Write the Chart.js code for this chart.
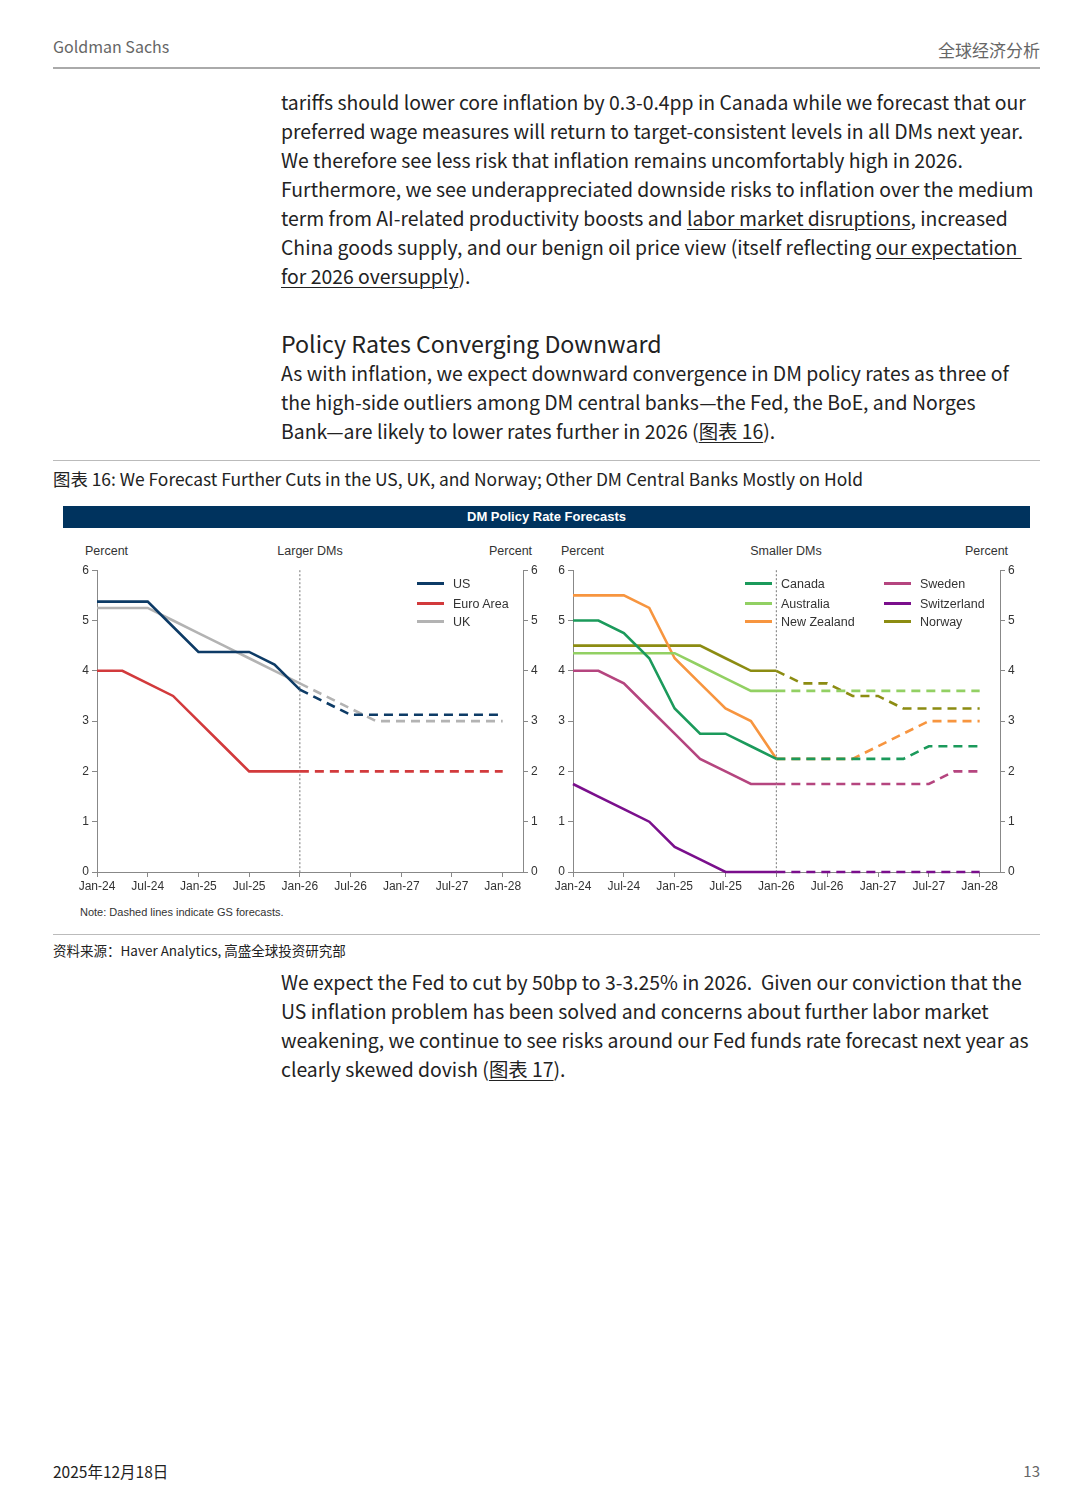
<!DOCTYPE html>
<html>
<head>
<meta charset="utf-8">
<script src="https://cdn.jsdelivr.net/npm/chart.js@4.4.1/dist/chart.umd.min.js"></script>
<style>
  body { margin: 0; background: #fff; }
  #page { position: relative; width: 1080px; height: 1510px; overflow: hidden;
          font-family: "Noto Sans CJK SC", "Noto Sans", sans-serif; color: #222; }
  .abs { position: absolute; white-space: nowrap; }
  .body { left: 281px; font-size: 19.4px; line-height: 29px; color: #222; }
  u { text-decoration-thickness: 1px; text-underline-offset: 3px; }
  .rule { position: absolute; left: 53px; width: 987px; background: #bbb; height: 1px; }
  .cl { position: absolute; white-space: nowrap; font-family: "Liberation Sans", Arial, sans-serif;
        font-size: 12.5px; color: #333; line-height: 14px; }
  .leg { position: absolute; font-family: "Liberation Sans", Arial, sans-serif; font-size: 12.5px; color: #333; }
  .leg div { position: absolute; white-space: nowrap; height: 16px; line-height: 16px; }
  .leg span.sw { display: inline-block; width: 27px; height: 3px; vertical-align: middle; margin-right: 9px; position: relative; top: -1px; }
  canvas { position: absolute; }
</style>
</head>
<body>
<div id="page">
  <div class="abs" style="left:53px;top:34px;font-size:16px;color:#666;">Goldman Sachs</div>
  <div class="abs" style="right:40px;top:37px;font-size:17px;color:#666;">全球经济分析</div>
  <div class="rule" style="top:67px;height:2px;background:#aaa;"></div>

  <div class="abs body" style="top:87px;">
    tariffs should lower core inflation by 0.3-0.4pp in Canada while we forecast that our<br>
    preferred wage measures will return to target-consistent levels in all DMs next year.<br>
    We therefore see less risk that inflation remains uncomfortably high in 2026.<br>
    Furthermore, we see underappreciated downside risks to inflation over the medium<br>
    term from AI-related productivity boosts and <u>labor market disruptions</u>, increased<br>
    China goods supply, and our benign oil price view (itself reflecting <u>our expectation&nbsp;</u><br>
    <u>for 2026 oversupply</u>).
  </div>

  <div class="abs" style="left:281px;top:327px;font-size:23.2px;line-height:32px;color:#222;">Policy Rates Converging Downward</div>
  <div class="abs body" style="top:358px;">
    As with inflation, we expect downward convergence in DM policy rates as three of<br>
    the high-side outliers among DM central banks—the Fed, the BoE, and Norges<br>
    Bank—are likely to lower rates further in 2026 (<u>图表 16</u>).
  </div>

  <div class="rule" style="top:460px;"></div>
  <div class="abs" style="left:53px;top:466px;font-size:17.4px;line-height:26px;color:#222;">图表 16: We Forecast Further Cuts in the US, UK, and Norway; Other DM Central Banks Mostly on Hold</div>

  <div class="abs" style="left:63px;top:506px;width:967px;height:22px;background:#00335e;color:#fff;
       font-family:'Liberation Sans',Arial,sans-serif;font-weight:bold;font-size:13px;line-height:22px;text-align:center;">DM Policy Rate Forecasts</div>

  <div class="cl" style="left:85px;top:544px;">Percent</div>
  <div class="cl" style="left:310px;top:544px;transform:translateX(-50%);">Larger DMs</div>
  <div class="cl" style="left:489px;top:544px;">Percent</div>
  <div class="cl" style="left:561px;top:544px;">Percent</div>
  <div class="cl" style="left:786px;top:544px;transform:translateX(-50%);">Smaller DMs</div>
  <div class="cl" style="left:965px;top:544px;">Percent</div>

  <canvas id="chartLarge" width="490" height="340" style="left:60px;top:560px;width:490px;height:340px;"></canvas>
  <canvas id="chartSmall" width="490" height="340" style="left:540px;top:560px;width:490px;height:340px;"></canvas>

  <div class="leg" id="legLarge"></div>
  <div class="leg" id="legSmall"></div>

  <div class="cl" style="left:80px;top:905px;font-size:11px;">Note: Dashed lines indicate GS forecasts.</div>
  <div class="rule" style="top:934px;"></div>
  <div class="abs" style="left:53px;top:940px;font-size:13.5px;line-height:20px;color:#222;">资料来源：Haver Analytics, 高盛全球投资研究部</div>

  <div class="abs body" style="top:967px;">
    We expect the Fed to cut by 50bp to 3-3.25% in 2026.&nbsp; Given our conviction that the<br>
    US inflation problem has been solved and concerns about further labor market<br>
    weakening, we continue to see risks around our Fed funds rate forecast next year as<br>
    clearly skewed dovish (<u>图表 17</u>).
  </div>

  <div class="abs" style="left:53px;top:1460px;font-size:15.5px;line-height:22px;color:#222;">2025年12月18日</div>
  <div class="abs" style="right:40px;top:1460px;font-size:15px;line-height:22px;color:#666;">13</div>
</div>

<script>
// Quarterly dates along the x axis; forecasts start at Jan-26
const quarters = ['Jan-24', 'Apr-24', 'Jul-24', 'Oct-24', 'Jan-25', 'Apr-25', 'Jul-25', 'Oct-25',
                  'Jan-26', 'Apr-26', 'Jul-26', 'Oct-26', 'Jan-27', 'Apr-27', 'Jul-27', 'Oct-27', 'Jan-28'];
const tickLabels = ['Jan-24', 'Jul-24', 'Jan-25', 'Jul-25', 'Jan-26', 'Jul-26', 'Jan-27', 'Jul-27', 'Jan-28'];
const forecastStart = 'Jan-26';

// Larger DMs (percent)
const largeNames = ['US', 'Euro Area', 'UK'];
const largeColors = ['#0d3b66', '#d23a3c', '#b3b3b3'];
const usRates   = [5.375, 5.375, 5.375, 4.875, 4.375, 4.375, 4.375, 4.125, 3.625, 3.375, 3.125, 3.125, 3.125, 3.125, 3.125, 3.125, 3.125];
const euroRates = [4.0, 4.0, 3.75, 3.5, 3.0, 2.5, 2.0, 2.0, 2.0, 2.0, 2.0, 2.0, 2.0, 2.0, 2.0, 2.0, 2.0];
const ukRates   = [5.25, 5.25, 5.25, 5.0, 4.75, 4.5, 4.25, 4.0, 3.75, 3.5, 3.25, 3.0, 3.0, 3.0, 3.0, 3.0, 3.0];

// Smaller DMs (percent)
const smallNames = ['Canada', 'Australia', 'New Zealand', 'Sweden', 'Switzerland', 'Norway'];
const smallColors = ['#1b9a5b', '#92d063', '#f7953f', '#b5457f', '#7a0f8c', '#8c8c12'];
const canadaRates  = [5.0, 5.0, 4.75, 4.25, 3.25, 2.75, 2.75, 2.5, 2.25, 2.25, 2.25, 2.25, 2.25, 2.25, 2.5, 2.5, 2.5];
const ausRates     = [4.35, 4.35, 4.35, 4.35, 4.35, 4.1, 3.85, 3.6, 3.6, 3.6, 3.6, 3.6, 3.6, 3.6, 3.6, 3.6, 3.6];
const nzRates      = [5.5, 5.5, 5.5, 5.25, 4.25, 3.75, 3.25, 3.0, 2.25, 2.25, 2.25, 2.25, 2.5, 2.75, 3.0, 3.0, 3.0];
const swedenRates  = [4.0, 4.0, 3.75, 3.25, 2.75, 2.25, 2.0, 1.75, 1.75, 1.75, 1.75, 1.75, 1.75, 1.75, 1.75, 2.0, 2.0];
const swissRates   = [1.75, 1.5, 1.25, 1.0, 0.5, 0.25, 0.0, 0.0, 0.0, 0.0, 0.0, 0.0, 0.0, 0.0, 0.0, 0.0, 0.0];
const norwayRates  = [4.5, 4.5, 4.5, 4.5, 4.5, 4.5, 4.25, 4.0, 4.0, 3.75, 3.75, 3.5, 3.5, 3.25, 3.25, 3.25, 3.25];

const FONT = { family: '"Liberation Sans", Arial, sans-serif', size: 12 };

/**
 * Splits each series into an actual (solid) and a forecast (dashed) dataset.
 */
function buildDatasets(names, colors, series) {
  const split = quarters.indexOf(forecastStart);
  const sets = [];
  names.forEach((name, i) => {
    const common = { borderColor: colors[i], borderWidth: 2.6, pointRadius: 0, tension: 0, clip: false, fill: false };
    sets.push({ ...common, label: name,
      data: series[i].slice(0, split + 1).map((y, x) => ({ x, y })) });
    sets.push({ ...common, label: name + ' forecast', borderDash: [9, 6],
      data: series[i].slice(split).map((y, k) => ({ x: k + split, y })) });
  });
  return sets;
}

function yAxis(position, width) {
  return {
    type: 'linear', position, min: 0, max: 6,
    ticks: { stepSize: 1, color: '#333', font: FONT, padding: 3 },
    grid: { drawOnChartArea: false, tickLength: 5, color: '#888' },
    border: { color: '#888' },
    afterFit(scale) { scale.width = width; }
  };
}

// Thin dotted marker where forecasts begin
const forecastLine = {
  id: 'forecastLine',
  beforeDatasetsDraw(chart) {
    const { ctx, chartArea } = chart;
    const x = chart.scales.x.getPixelForValue(quarters.indexOf(forecastStart));
    ctx.save();
    ctx.strokeStyle = '#777';
    ctx.lineWidth = 1;
    ctx.setLineDash([2, 2]);
    ctx.beginPath();
    ctx.moveTo(x, chartArea.top);
    ctx.lineTo(x, chartArea.bottom);
    ctx.stroke();
    ctx.restore();
  }
};

function renderChart(id, names, colors, series, leftW, rightW) {
  const ctx = document.getElementById(id).getContext('2d');
  return new Chart(ctx, {
    type: 'line',
    data: { datasets: buildDatasets(names, colors, series) },
    options: {
      responsive: false,
      animation: false,
      layout: { padding: { top: 9, left: 0, right: 0, bottom: 0 } },
      plugins: { legend: { display: false }, tooltip: { enabled: false } },
      scales: {
        x: {
          type: 'linear', min: 0, max: 16.8,
          afterBuildTicks(scale) { scale.ticks = tickLabels.map(t => ({ value: quarters.indexOf(t) })); },
          ticks: { callback: v => quarters[v], autoSkip: false, maxRotation: 0, color: '#333', font: FONT, padding: 2 },
          grid: { drawOnChartArea: false, tickLength: 5, color: '#888' },
          border: { color: '#888' },
          afterFit(scale) { scale.height = 28; }
        },
        y: yAxis('left', leftW),
        y2: yAxis('right', rightW)
      }
    },
    plugins: [forecastLine]
  });
}

/**
 * Builds an HTML legend from names and colours, laid out in columns.
 */
function renderLegend(id, names, colors, columns) {
  const el = document.getElementById(id);
  const rowsY = [576, 596, 614];
  names.forEach((name, i) => {
    const col = Math.floor(i / 3);
    const row = i % 3;
    const item = document.createElement('div');
    item.style.left = columns[col] + 'px';
    item.style.top = rowsY[row] + 'px';
    item.innerHTML = `<span class="sw" style="background:${colors[i]}"></span>${name}`;
    el.appendChild(item);
  });
}

renderChart('chartLarge', largeNames, largeColors, [usRates, euroRates, ukRates], 37, 27);
renderChart('chartSmall', smallNames, smallColors,
  [canadaRates, ausRates, nzRates, swedenRates, swissRates, norwayRates], 33, 30);
renderLegend('legLarge', largeNames, largeColors, [417]);
renderLegend('legSmall', smallNames, smallColors, [745, 884]);
</script>
</body>
</html>
